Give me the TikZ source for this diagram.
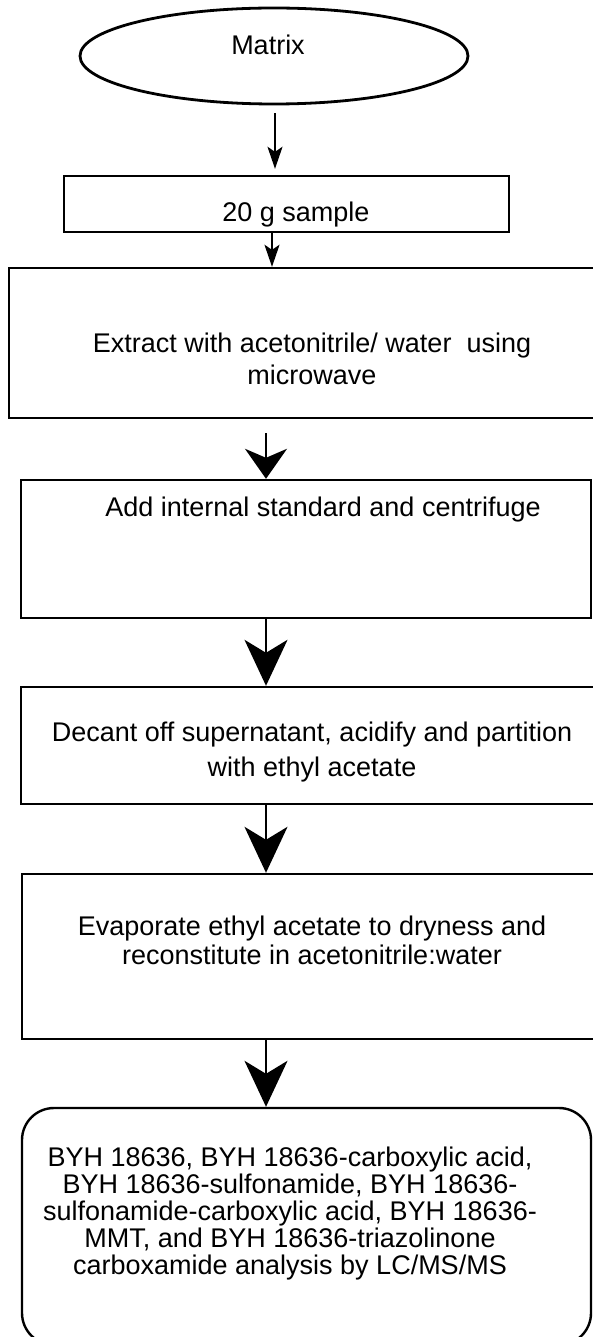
\documentclass[tikz,border=0pt]{standalone}
\usepackage{fontspec}
\setmainfont{Liberation Sans}
\usetikzlibrary{shapes.geometric}
\usetikzlibrary{arrows.meta}
\tikzset{
start/.style={ % ellipse at the top of the flow
draw, ellipse, line width=2.8pt,
minimum width=388pt, minimum height=96pt},
stepbox/.style={ % plain rectangles of the flow
draw, rectangle, line width=2.4pt},
endbox/.style={ % rounded box at the bottom
draw, rectangle, rounded corners=32pt, line width=2.4pt},
lbl/.style={ % texts inside the shapes
align=center, inner sep=0pt,
font=\fontsize{27}{#1}\selectfont},
lbl/.default=29,
flow/.style={line width=1.8pt}, % connectors
smallhead/.style={-{Stealth[length=22pt,width=15pt,inset=5pt]}},
midhead/.style={-{Stealth[length=30pt,width=42pt,inset=9pt]}},
bighead/.style={-{Stealth[length=46pt,width=43pt,inset=13pt]}}}

\begin{document}
\begin{tikzpicture}[x=1pt, y=-1pt]
\useasboundingbox (0,0) rectangle (592,1337);
% columns of the connectors
\coordinate (col1) at (275,0);
\coordinate (col2) at (272,0);
\coordinate (col3) at (266,0);

\node[start] (matrix) at (274,56) {};
\node[lbl] (matrixtxt) at (268,45) {Matrix};

\node[stepbox, minimum width=445pt, minimum height=56pt] (sample) at (286.5,204) {};
\node[lbl] (sampletxt) at (296,215) {20 g sample};

\node[stepbox, minimum width=591pt, minimum height=150pt] (extract) at (304.5,343) {};
\node[lbl=32] (extracttxt) at (312,359) {Extract with acetonitrile/ water\ \ using\\microwave};

\node[stepbox, minimum width=570pt, minimum height=138pt] (istd) at (306,549) {};
\node[lbl] (istdtxt) at (323,510) {Add internal standard and centrifuge};

\node[stepbox, minimum width=579pt, minimum height=117pt] (decant) at (310.5,745.5) {};
\node[lbl=35] (decanttxt) at (312,752) {Decant off supernatant, acidify and partition\\with ethyl acetate};

\node[stepbox, minimum width=578pt, minimum height=165pt] (evap) at (311,956.5) {};
\node[lbl=29] (evaptxt) at (312,940) {Evaporate ethyl acetate to dryness and\\reconstitute in acetonitrile:water};

\node[endbox, minimum width=569pt, minimum height=237pt] (result) at (306.5,1226.5) {};
\node[lbl=27] (resulttxt) at (290,1214) {BYH 18636, BYH 18636-carboxylic acid,\\BYH 18636-sulfonamide, BYH 18636-\\sulfonamide-carboxylic acid, BYH 18636-\\MMT, and BYH 18636-triazolinone\\carboxamide analysis by LC/MS/MS};

\draw[flow, smallhead, shorten <=8pt, shorten >=6pt] (matrix.south -| col1) -- (sample.north -| col1);
\draw[flow, smallhead] (sample.south -| col2) -- (extract.north -| col2);
\draw[flow, midhead, shorten <=14pt] (extract.south -| col3) -- (istd.north -| col3);
\draw[flow, bighead] (istd.south -| col3) -- (decant.north -| col3);
\draw[flow, bighead] (decant.south -| col3) -- (evap.north -| col3);
\draw[flow, bighead] (evap.south -| col3) -- (result.north -| col3);
\end{tikzpicture}
\end{document}
